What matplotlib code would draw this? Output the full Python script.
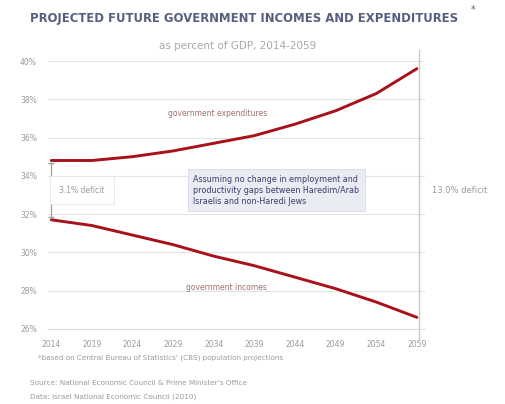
import numpy as np
import matplotlib.pyplot as plt

# values (percent of GDP)
years = [2014, 2019, 2024, 2029, 2034, 2039, 2044, 2049, 2054, 2059]
expenditures = [34.8, 34.8, 35.0, 35.3, 35.7, 36.1, 36.7, 37.4, 38.3, 39.6]
incomes = [31.7, 31.4, 30.9, 30.4, 29.8, 29.3, 28.7, 28.1, 27.4, 26.6]
y_ticks = [26, 28, 30, 32, 34, 36, 38, 40]

gray = "#9a9a9a"
red = "#a8101a"

fig = plt.figure(figsize=(5.06, 4.04), dpi=100)
ax = fig.add_axes([0.095, 0.186, 0.745, 0.663])

ax.plot(years, expenditures, color=red, lw=2.1, solid_capstyle="round")
ax.plot(years, incomes, color=red, lw=2.1, solid_capstyle="round")

ax.set_xlim(2013.6, 2060)
ax.set_ylim(26, 40)
ax.set_yticks(y_ticks)
ax.set_yticklabels([f"{t}%" for t in y_ticks])
ax.set_xticks(years)
ax.tick_params(colors=gray, labelsize=5.5, length=0, pad=8)
ax.grid(axis="y", color="#e4e4e4", lw=0.8)
for s in ["top", "right", "left"]:
    ax.spines[s].set_visible(False)
ax.spines["bottom"].set_color("#dddddd")

# deficit markers
ax.plot([years[0], years[0]], [incomes[0] + 0.15, expenditures[0] - 0.15],
        color="#8fa88f", lw=0.9, marker="_", ms=4)
ax.axvline(years[-1] + 0.3, color="#c8c8c8", lw=1.0, ymin=-0.04, ymax=1.04, clip_on=False)

gap0 = expenditures[0] - incomes[0]
gap1 = expenditures[-1] - incomes[-1]
ax.text(2015, 33.25, f"{gap0:.1f}% deficit", fontsize=5.5, color=gray, va="center",
        bbox=dict(boxstyle="square,pad=1.2", fc="white", ec="#e6e6e6", lw=0.6))
ax.text(2060.8, 33.25, f"{gap1:.1f}% deficit", fontsize=6, color=gray, va="center", clip_on=False)

ax.text(2034.5, 37.1, "government expenditures", fontsize=5.5, color="#a07070", ha="center")
ax.text(2035.5, 28.05, "government incomes", fontsize=5.5, color="#a07070", ha="center")

ax.text(2031.5, 33.25,
        "Assuming no change in employment and\nproductivity gaps between Haredim/Arab\nIsraelis and non-Haredi Jews",
        fontsize=5.8, color="#3a3f6a", va="center", linespacing=1.3,
        bbox=dict(boxstyle="square,pad=0.7", fc="#eaecf4", ec="#d8dbe6", lw=0.6))

fig.text(0.06, 0.955, "PROJECTED FUTURE GOVERNMENT INCOMES AND EXPENDITURES", fontsize=8.4,
         color="#56607e", fontweight="semibold", va="center")
fig.text(0.93, 0.975, "*", fontsize=7, color="#56607e", va="center")
fig.text(0.47, 0.885, "as percent of GDP, 2014-2059", fontsize=7.5, color="#a8a8a8",
         ha="center", va="center")

fig.text(0.075, 0.115, "*based on Central Bureau of Statistics' (CBS) population projections",
         fontsize=5.2, color=gray, va="center")
fig.text(0.06, 0.052, "Source: National Economic Council & Prime Minister's Office",
         fontsize=5.2, color=gray, va="center")
fig.text(0.06, 0.018, "Data: Israel National Economic Council (2010)",
         fontsize=5.2, color=gray, va="center")

fig.savefig("out.png", dpi=100)
